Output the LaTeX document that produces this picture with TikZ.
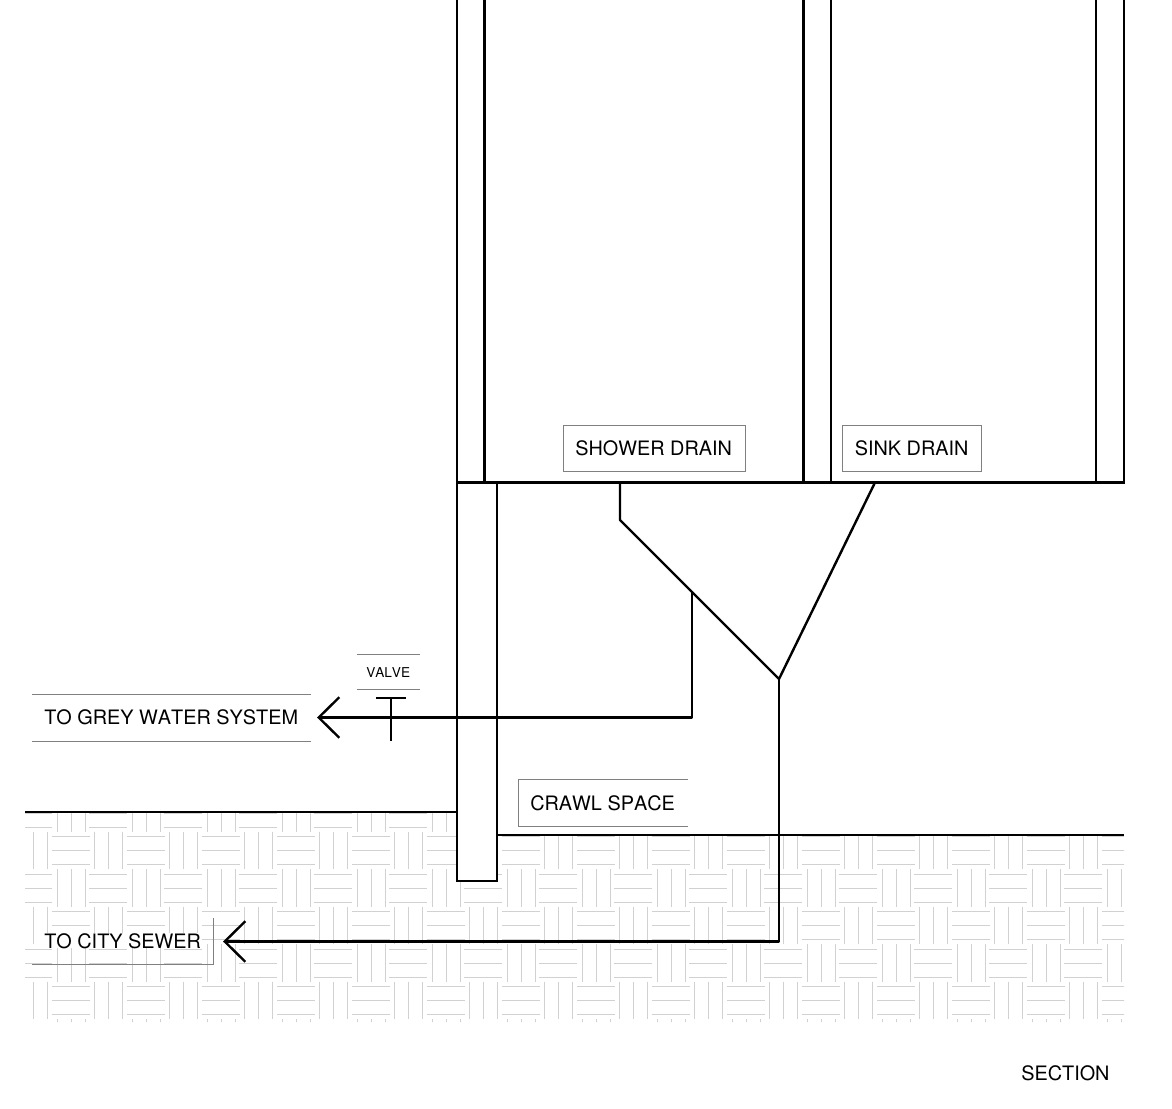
\documentclass[tikz,border=0pt]{standalone}
\usepackage{fontspec}
\setmainfont[Kerning=Off]{TeX Gyre Heros}
\usetikzlibrary{arrows.meta, positioning, calc}

\tikzset{
    wall/.style={line width=1.8pt, black},
    pipe/.style={line width=1.8pt, black, line join=round},
    flow/.style={pipe, -{Straight Barb[length=15.5pt, width=30.5pt, line width=1.8pt]}},
    hatch/.style={line width=0.75pt, black!18},
    boxline/.style={line width=0.7pt, black!50},
    tag/.style={anchor=base west, inner sep=0pt, font=\fontsize{14.9}{18}\selectfont},
}

\begin{document}
\begin{tikzpicture}[x=0.75pt, y=-0.75pt]
    \useasboundingbox (0,0) rectangle (1172,1108);

    % ground hatch
    \begin{scope}
        \clip (25,812) -- (497,812) -- (497,835) -- (1124,835) -- (1124,1022) -- (25,1022) -- cycle;
        \foreach \r in {794,869,944,1019} {
            \foreach \o in {0,75,...,1125} {
                \foreach \v in {57,71,85}
                    \draw[hatch] (\v+\o,\r) -- (\v+\o,\r+37.5);
                \foreach \h in {5,19,33}
                    \draw[hatch] (14+\o,\r+\h) -- (52+\o,\r+\h);
            }
        }
        \foreach \r in {831.5,906.5,981.5} {
            \foreach \o in {0,75,...,1125} {
                \foreach \v in {19,33,47}
                    \draw[hatch] (\v+\o,\r) -- (\v+\o,\r+37.5);
                \foreach \h in {5,19,33}
                    \draw[hatch] (52+\o,\r+\h) -- (90+\o,\r+\h);
            }
        }
    \end{scope}

    % walls and floor
    \fill[white] (457,482.5) rectangle (497,881);
    \foreach \x in {457,484.5,803.5,831,1096,1124}
        \draw[wall] (\x,0) -- (\x,482.5);
    \draw[wall] (456,482.5) -- (1125,482.5);
    \draw[wall] (457,482.5) -- (457,881) -- (497,881) -- (497,482.5);
    \draw[wall] (25,812) -- (457,812);
    \draw[wall] (497,835) -- (1124,835);

    % pipes
    \coordinate (showerout) at (620,482.5);
    \coordinate (showerbend) at (620,520);
    \coordinate (sinkout) at (875,482.5);
    \coordinate (wye) at (779,679);
    \coordinate (greytee) at (692,591);
    \coordinate (greybend) at (692,717.5);
    \coordinate (greyend) at (317,717.5);
    \coordinate (sewerbend) at (779,941.5);
    \coordinate (sewerend) at (223,941.5);
    \coordinate (valveleft) at (376,698);
    \coordinate (valveright) at (406,698);
    \coordinate (valvetop) at (391,698);
    \coordinate (valvefoot) at (391,741);

    \draw[pipe] (showerout) -- (showerbend) -- (wye) -- (sinkout);
    \draw[flow] (wye) -- (sewerbend) -- (sewerend);
    \draw[flow] (greytee) -- (greybend) -- (greyend);
    \draw[pipe] (valveleft) -- (valveright);
    \draw[pipe] (valvetop) -- (valvefoot);

    % labels
    \draw[boxline] (563,425) rectangle (745,471.5);
    \draw[boxline] (842,425) rectangle (981,471.5);
    \draw[boxline] (688,779) -- (518,779) -- (518,826) -- (688,826);
    \draw[boxline] (32,694) -- (311,694);
    \draw[boxline] (32,741) -- (311,741);
    \draw[boxline] (357,654.5) -- (420,654.5);
    \draw[boxline] (357,689) -- (420,689);
    \draw[boxline] (213.5,918) -- (213.5,964) -- (32,964);

    \node (shower) [tag] at (575,455) {SHOWER DRAIN};
    \node (sink) [tag] at (854.5,455) {SINK DRAIN};
    \node (crawl) [tag] at (530,810) {CRAWL SPACE};
    \node (grey) [tag] at (44,724.5) {TO GREY WATER SYSTEM};
    \node (valve) [tag, font=\fontsize{10.2}{12}\selectfont] at (366,677) {VALVE};
    \node (sewer) [tag, fill=white] at (44,948) {TO CITY SEWER};
    \node (section) [tag] at (1021,1080) {SECTION};
\end{tikzpicture}
\end{document}
